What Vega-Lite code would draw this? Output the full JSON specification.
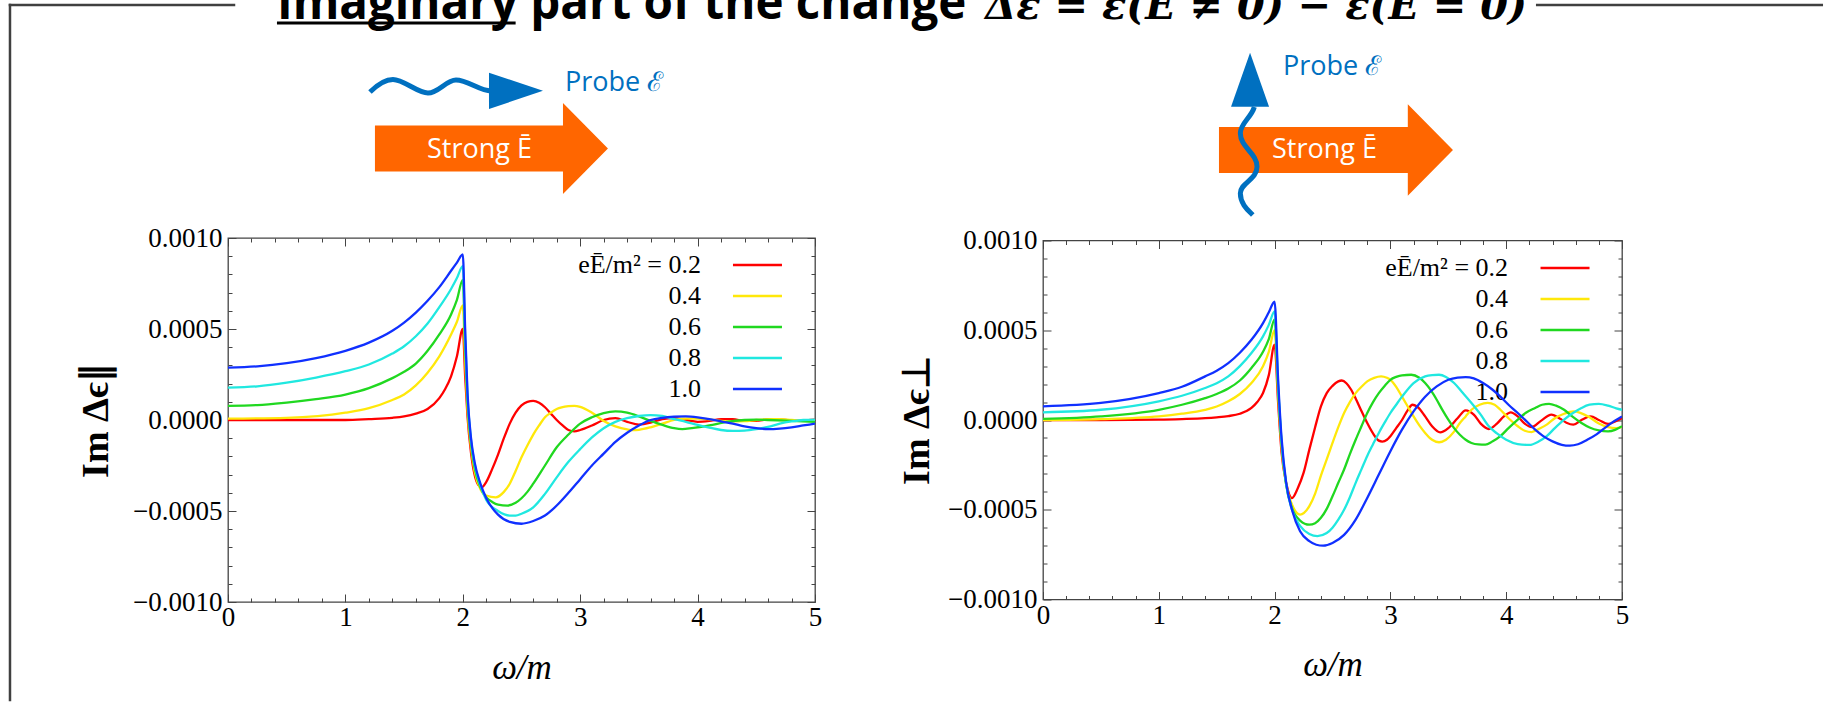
{
"$schema":"https://vega.github.io/schema/vega-lite/v6.json",
"background":"white",
"padding":{"left":7,"top":-20,"right":0,"bottom":0},
"config":{
 "view":{"stroke":"#444444","strokeWidth":1.3},
 "axis":{"domain":false,"grid":false,"tickColor":"#444444","tickWidth":1,"labelFont":"Liberation Serif","labelFontSize":27,"labelColor":"#000000","labelFlush":false,"labelOverlap":false,"titleFont":"Liberation Serif","titleColor":"#000000"}
},
"datasets":{
"leg":[{"k":"0.2","t":"eĒ/m² = 0.2"},{"k":"0.4","t":"0.4"},{"k":"0.6","t":"0.6"},{"k":"0.8","t":"0.8"},{"k":"1.0","t":"1.0"}],
"par":[
{"k":"0.2","x":0,"y":0e-4},{"k":"0.2","x":0.5,"y":0e-4},{"k":"0.2","x":1,"y":0e-4},{"k":"0.2","x":1.2,"y":0.05e-4},{"k":"0.2","x":1.4,"y":0.12e-4},{"k":"0.2","x":1.5,"y":0.2e-4},{"k":"0.2","x":1.6,"y":0.35e-4},{"k":"0.2","x":1.7,"y":0.6e-4},{"k":"0.2","x":1.8,"y":1.2e-4},{"k":"0.2","x":1.85,"y":1.7e-4},{"k":"0.2","x":1.9,"y":2.4e-4},{"k":"0.2","x":1.95,"y":3.5e-4},{"k":"0.2","x":2,"y":5.0e-4},{"k":"0.2","x":2.02,"y":2.4e-4},{"k":"0.2","x":2.04,"y":0.2e-4},{"k":"0.2","x":2.07,"y":-1.8e-4},{"k":"0.2","x":2.1,"y":-3.0e-4},{"k":"0.2","x":2.13,"y":-3.55e-4},{"k":"0.2","x":2.16,"y":-3.7e-4},{"k":"0.2","x":2.2,"y":-3.4e-4},{"k":"0.2","x":2.25,"y":-2.7e-4},{"k":"0.2","x":2.3,"y":-1.9e-4},{"k":"0.2","x":2.35,"y":-1.0e-4},{"k":"0.2","x":2.4,"y":-0.2e-4},{"k":"0.2","x":2.45,"y":0.4e-4},{"k":"0.2","x":2.5,"y":0.8e-4},{"k":"0.2","x":2.55,"y":1.0e-4},{"k":"0.2","x":2.6,"y":1.05e-4},{"k":"0.2","x":2.65,"y":0.95e-4},{"k":"0.2","x":2.7,"y":0.7e-4},{"k":"0.2","x":2.75,"y":0.35e-4},{"k":"0.2","x":2.8,"y":0e-4},{"k":"0.2","x":2.85,"y":-0.3e-4},{"k":"0.2","x":2.9,"y":-0.55e-4},{"k":"0.2","x":2.95,"y":-0.62e-4},{"k":"0.2","x":3,"y":-0.55e-4},{"k":"0.2","x":3.1,"y":-0.3e-4},{"k":"0.2","x":3.2,"y":0e-4},{"k":"0.2","x":3.3,"y":0.1e-4},{"k":"0.2","x":3.4,"y":-0.1e-4},{"k":"0.2","x":3.5,"y":-0.25e-4},{"k":"0.2","x":3.6,"y":-0.15e-4},{"k":"0.2","x":3.7,"y":0.05e-4},{"k":"0.2","x":3.8,"y":0.1e-4},{"k":"0.2","x":3.9,"y":0e-4},{"k":"0.2","x":4,"y":-0.1e-4},{"k":"0.2","x":4.1,"y":-0.05e-4},{"k":"0.2","x":4.2,"y":0.05e-4},{"k":"0.2","x":4.3,"y":0.05e-4},{"k":"0.2","x":4.4,"y":-0.05e-4},{"k":"0.2","x":4.5,"y":-0.05e-4},{"k":"0.2","x":4.6,"y":0.03e-4},{"k":"0.2","x":4.7,"y":0.03e-4},{"k":"0.2","x":4.8,"y":-0.03e-4},{"k":"0.2","x":4.9,"y":-0.02e-4},{"k":"0.2","x":5,"y":0.02e-4},
{"k":"0.4","x":0,"y":0.08e-4},{"k":"0.4","x":0.5,"y":0.12e-4},{"k":"0.4","x":1,"y":0.4e-4},{"k":"0.4","x":1.2,"y":0.65e-4},{"k":"0.4","x":1.4,"y":1.1e-4},{"k":"0.4","x":1.5,"y":1.4e-4},{"k":"0.4","x":1.6,"y":1.9e-4},{"k":"0.4","x":1.7,"y":2.6e-4},{"k":"0.4","x":1.8,"y":3.5e-4},{"k":"0.4","x":1.9,"y":4.7e-4},{"k":"0.4","x":1.95,"y":5.4e-4},{"k":"0.4","x":2,"y":6.3e-4},{"k":"0.4","x":2.02,"y":3.3e-4},{"k":"0.4","x":2.04,"y":0.6e-4},{"k":"0.4","x":2.07,"y":-1.5e-4},{"k":"0.4","x":2.1,"y":-2.8e-4},{"k":"0.4","x":2.15,"y":-3.8e-4},{"k":"0.4","x":2.2,"y":-4.15e-4},{"k":"0.4","x":2.28,"y":-4.25e-4},{"k":"0.4","x":2.35,"y":-3.95e-4},{"k":"0.4","x":2.4,"y":-3.5e-4},{"k":"0.4","x":2.45,"y":-2.8e-4},{"k":"0.4","x":2.5,"y":-2.05e-4},{"k":"0.4","x":2.55,"y":-1.4e-4},{"k":"0.4","x":2.6,"y":-0.8e-4},{"k":"0.4","x":2.65,"y":-0.3e-4},{"k":"0.4","x":2.7,"y":0.15e-4},{"k":"0.4","x":2.75,"y":0.4e-4},{"k":"0.4","x":2.8,"y":0.6e-4},{"k":"0.4","x":2.9,"y":0.76e-4},{"k":"0.4","x":2.95,"y":0.78e-4},{"k":"0.4","x":3,"y":0.72e-4},{"k":"0.4","x":3.1,"y":0.4e-4},{"k":"0.4","x":3.2,"y":-0.05e-4},{"k":"0.4","x":3.3,"y":-0.35e-4},{"k":"0.4","x":3.4,"y":-0.52e-4},{"k":"0.4","x":3.45,"y":-0.56e-4},{"k":"0.4","x":3.5,"y":-0.54e-4},{"k":"0.4","x":3.6,"y":-0.4e-4},{"k":"0.4","x":3.7,"y":-0.2e-4},{"k":"0.4","x":3.8,"y":0e-4},{"k":"0.4","x":3.9,"y":0.08e-4},{"k":"0.4","x":4,"y":0.08e-4},{"k":"0.4","x":4.1,"y":0.03e-4},{"k":"0.4","x":4.2,"y":-0.05e-4},{"k":"0.4","x":4.3,"y":-0.08e-4},{"k":"0.4","x":4.4,"y":-0.06e-4},{"k":"0.4","x":4.5,"y":0e-4},{"k":"0.4","x":4.6,"y":0.04e-4},{"k":"0.4","x":4.7,"y":0.04e-4},{"k":"0.4","x":4.8,"y":0e-4},{"k":"0.4","x":4.9,"y":-0.03e-4},{"k":"0.4","x":5,"y":-0.03e-4},
{"k":"0.6","x":0,"y":0.78e-4},{"k":"0.6","x":0.25,"y":0.82e-4},{"k":"0.6","x":0.5,"y":0.96e-4},{"k":"0.6","x":0.75,"y":1.15e-4},{"k":"0.6","x":1,"y":1.4e-4},{"k":"0.6","x":1.2,"y":1.75e-4},{"k":"0.6","x":1.4,"y":2.3e-4},{"k":"0.6","x":1.5,"y":2.65e-4},{"k":"0.6","x":1.6,"y":3.1e-4},{"k":"0.6","x":1.7,"y":3.8e-4},{"k":"0.6","x":1.8,"y":4.7e-4},{"k":"0.6","x":1.9,"y":5.8e-4},{"k":"0.6","x":1.95,"y":6.6e-4},{"k":"0.6","x":2,"y":7.7e-4},{"k":"0.6","x":2.02,"y":4.0e-4},{"k":"0.6","x":2.04,"y":1.0e-4},{"k":"0.6","x":2.07,"y":-1.3e-4},{"k":"0.6","x":2.1,"y":-2.6e-4},{"k":"0.6","x":2.15,"y":-3.7e-4},{"k":"0.6","x":2.2,"y":-4.25e-4},{"k":"0.6","x":2.25,"y":-4.5e-4},{"k":"0.6","x":2.3,"y":-4.65e-4},{"k":"0.6","x":2.38,"y":-4.7e-4},{"k":"0.6","x":2.45,"y":-4.55e-4},{"k":"0.6","x":2.5,"y":-4.3e-4},{"k":"0.6","x":2.55,"y":-3.95e-4},{"k":"0.6","x":2.6,"y":-3.5e-4},{"k":"0.6","x":2.7,"y":-2.5e-4},{"k":"0.6","x":2.8,"y":-1.5e-4},{"k":"0.6","x":2.9,"y":-0.8e-4},{"k":"0.6","x":3,"y":-0.2e-4},{"k":"0.6","x":3.1,"y":0.15e-4},{"k":"0.6","x":3.2,"y":0.38e-4},{"k":"0.6","x":3.3,"y":0.47e-4},{"k":"0.6","x":3.4,"y":0.4e-4},{"k":"0.6","x":3.5,"y":0.2e-4},{"k":"0.6","x":3.6,"y":-0.05e-4},{"k":"0.6","x":3.7,"y":-0.27e-4},{"k":"0.6","x":3.8,"y":-0.45e-4},{"k":"0.6","x":3.87,"y":-0.5e-4},{"k":"0.6","x":3.95,"y":-0.45e-4},{"k":"0.6","x":4.1,"y":-0.3e-4},{"k":"0.6","x":4.25,"y":-0.1e-4},{"k":"0.6","x":4.4,"y":0e-4},{"k":"0.6","x":4.5,"y":0.02e-4},{"k":"0.6","x":4.6,"y":0e-4},{"k":"0.6","x":4.8,"y":-0.05e-4},{"k":"0.6","x":5,"y":-0.1e-4},
{"k":"0.8","x":0,"y":1.78e-4},{"k":"0.8","x":0.25,"y":1.85e-4},{"k":"0.8","x":0.5,"y":2.05e-4},{"k":"0.8","x":0.75,"y":2.33e-4},{"k":"0.8","x":1,"y":2.68e-4},{"k":"0.8","x":1.2,"y":3.05e-4},{"k":"0.8","x":1.4,"y":3.65e-4},{"k":"0.8","x":1.5,"y":4.05e-4},{"k":"0.8","x":1.6,"y":4.6e-4},{"k":"0.8","x":1.7,"y":5.3e-4},{"k":"0.8","x":1.8,"y":6.2e-4},{"k":"0.8","x":1.9,"y":7.2e-4},{"k":"0.8","x":1.95,"y":7.8e-4},{"k":"0.8","x":2,"y":8.45e-4},{"k":"0.8","x":2.02,"y":4.6e-4},{"k":"0.8","x":2.04,"y":1.3e-4},{"k":"0.8","x":2.07,"y":-1.1e-4},{"k":"0.8","x":2.1,"y":-2.4e-4},{"k":"0.8","x":2.15,"y":-3.6e-4},{"k":"0.8","x":2.2,"y":-4.4e-4},{"k":"0.8","x":2.3,"y":-5.0e-4},{"k":"0.8","x":2.4,"y":-5.25e-4},{"k":"0.8","x":2.45,"y":-5.25e-4},{"k":"0.8","x":2.5,"y":-5.15e-4},{"k":"0.8","x":2.6,"y":-4.8e-4},{"k":"0.8","x":2.7,"y":-4.06e-4},{"k":"0.8","x":2.8,"y":-3.15e-4},{"k":"0.8","x":2.9,"y":-2.3e-4},{"k":"0.8","x":3,"y":-1.6e-4},{"k":"0.8","x":3.1,"y":-0.96e-4},{"k":"0.8","x":3.2,"y":-0.45e-4},{"k":"0.8","x":3.3,"y":-0.1e-4},{"k":"0.8","x":3.4,"y":0.1e-4},{"k":"0.8","x":3.5,"y":0.22e-4},{"k":"0.8","x":3.6,"y":0.27e-4},{"k":"0.8","x":3.7,"y":0.22e-4},{"k":"0.8","x":3.8,"y":0.05e-4},{"k":"0.8","x":3.9,"y":-0.1e-4},{"k":"0.8","x":4,"y":-0.27e-4},{"k":"0.8","x":4.1,"y":-0.42e-4},{"k":"0.8","x":4.2,"y":-0.55e-4},{"k":"0.8","x":4.3,"y":-0.6e-4},{"k":"0.8","x":4.4,"y":-0.58e-4},{"k":"0.8","x":4.5,"y":-0.5e-4},{"k":"0.8","x":4.6,"y":-0.38e-4},{"k":"0.8","x":4.7,"y":-0.2e-4},{"k":"0.8","x":4.8,"y":-0.08e-4},{"k":"0.8","x":4.9,"y":0e-4},{"k":"0.8","x":5,"y":0.02e-4},
{"k":"1.0","x":0,"y":2.88e-4},{"k":"1.0","x":0.25,"y":2.95e-4},{"k":"1.0","x":0.5,"y":3.12e-4},{"k":"1.0","x":0.75,"y":3.4e-4},{"k":"1.0","x":1,"y":3.8e-4},{"k":"1.0","x":1.2,"y":4.25e-4},{"k":"1.0","x":1.4,"y":4.9e-4},{"k":"1.0","x":1.5,"y":5.35e-4},{"k":"1.0","x":1.6,"y":5.9e-4},{"k":"1.0","x":1.7,"y":6.55e-4},{"k":"1.0","x":1.8,"y":7.3e-4},{"k":"1.0","x":1.9,"y":8.2e-4},{"k":"1.0","x":1.95,"y":8.65e-4},{"k":"1.0","x":2,"y":9.1e-4},{"k":"1.0","x":2.02,"y":5.0e-4},{"k":"1.0","x":2.04,"y":1.5e-4},{"k":"1.0","x":2.07,"y":-1.0e-4},{"k":"1.0","x":2.1,"y":-2.3e-4},{"k":"1.0","x":2.15,"y":-3.5e-4},{"k":"1.0","x":2.2,"y":-4.3e-4},{"k":"1.0","x":2.3,"y":-5.2e-4},{"k":"1.0","x":2.4,"y":-5.6e-4},{"k":"1.0","x":2.5,"y":-5.7e-4},{"k":"1.0","x":2.6,"y":-5.55e-4},{"k":"1.0","x":2.7,"y":-5.25e-4},{"k":"1.0","x":2.8,"y":-4.7e-4},{"k":"1.0","x":2.9,"y":-4.0e-4},{"k":"1.0","x":3,"y":-3.25e-4},{"k":"1.0","x":3.1,"y":-2.5e-4},{"k":"1.0","x":3.2,"y":-1.85e-4},{"k":"1.0","x":3.3,"y":-1.2e-4},{"k":"1.0","x":3.4,"y":-0.7e-4},{"k":"1.0","x":3.5,"y":-0.3e-4},{"k":"1.0","x":3.6,"y":0e-4},{"k":"1.0","x":3.7,"y":0.12e-4},{"k":"1.0","x":3.8,"y":0.18e-4},{"k":"1.0","x":3.9,"y":0.2e-4},{"k":"1.0","x":4,"y":0.15e-4},{"k":"1.0","x":4.1,"y":0.05e-4},{"k":"1.0","x":4.2,"y":-0.08e-4},{"k":"1.0","x":4.3,"y":-0.2e-4},{"k":"1.0","x":4.4,"y":-0.35e-4},{"k":"1.0","x":4.5,"y":-0.45e-4},{"k":"1.0","x":4.6,"y":-0.5e-4},{"k":"1.0","x":4.7,"y":-0.47e-4},{"k":"1.0","x":4.8,"y":-0.4e-4},{"k":"1.0","x":4.9,"y":-0.3e-4},{"k":"1.0","x":5,"y":-0.2e-4}
],
"perp":[
{"k":"0.2","x":0,"y":0e-4},{"k":"0.2","x":0.5,"y":0e-4},{"k":"0.2","x":1,"y":0.02e-4},{"k":"0.2","x":1.2,"y":0.05e-4},{"k":"0.2","x":1.4,"y":0.1e-4},{"k":"0.2","x":1.5,"y":0.15e-4},{"k":"0.2","x":1.6,"y":0.22e-4},{"k":"0.2","x":1.7,"y":0.35e-4},{"k":"0.2","x":1.8,"y":0.67e-4},{"k":"0.2","x":1.85,"y":1.0e-4},{"k":"0.2","x":1.9,"y":1.5e-4},{"k":"0.2","x":1.95,"y":2.5e-4},{"k":"0.2","x":2,"y":4.2e-4},{"k":"0.2","x":2.03,"y":1.0e-4},{"k":"0.2","x":2.06,"y":-1.8e-4},{"k":"0.2","x":2.1,"y":-3.5e-4},{"k":"0.2","x":2.15,"y":-4.35e-4},{"k":"0.2","x":2.2,"y":-3.8e-4},{"k":"0.2","x":2.25,"y":-2.95e-4},{"k":"0.2","x":2.3,"y":-1.65e-4},{"k":"0.2","x":2.35,"y":-0.4e-4},{"k":"0.2","x":2.4,"y":0.76e-4},{"k":"0.2","x":2.45,"y":1.5e-4},{"k":"0.2","x":2.5,"y":1.9e-4},{"k":"0.2","x":2.55,"y":2.15e-4},{"k":"0.2","x":2.58,"y":2.2e-4},{"k":"0.2","x":2.62,"y":2.05e-4},{"k":"0.2","x":2.66,"y":1.7e-4},{"k":"0.2","x":2.7,"y":1.2e-4},{"k":"0.2","x":2.75,"y":0.5e-4},{"k":"0.2","x":2.8,"y":-0.17e-4},{"k":"0.2","x":2.85,"y":-0.75e-4},{"k":"0.2","x":2.9,"y":-1.15e-4},{"k":"0.2","x":2.93,"y":-1.2e-4},{"k":"0.2","x":2.97,"y":-1.1e-4},{"k":"0.2","x":3,"y":-0.9e-4},{"k":"0.2","x":3.05,"y":-0.45e-4},{"k":"0.2","x":3.1,"y":0e-4},{"k":"0.2","x":3.15,"y":0.55e-4},{"k":"0.2","x":3.19,"y":0.85e-4},{"k":"0.2","x":3.23,"y":0.75e-4},{"k":"0.2","x":3.3,"y":0.2e-4},{"k":"0.2","x":3.36,"y":-0.35e-4},{"k":"0.2","x":3.43,"y":-0.69e-4},{"k":"0.2","x":3.5,"y":-0.45e-4},{"k":"0.2","x":3.58,"y":0.1e-4},{"k":"0.2","x":3.65,"y":0.54e-4},{"k":"0.2","x":3.72,"y":0.3e-4},{"k":"0.2","x":3.78,"y":-0.2e-4},{"k":"0.2","x":3.85,"y":-0.5e-4},{"k":"0.2","x":3.92,"y":-0.2e-4},{"k":"0.2","x":3.98,"y":0.2e-4},{"k":"0.2","x":4.04,"y":0.43e-4},{"k":"0.2","x":4.1,"y":0.2e-4},{"k":"0.2","x":4.16,"y":-0.2e-4},{"k":"0.2","x":4.22,"y":-0.39e-4},{"k":"0.2","x":4.3,"y":-0.05e-4},{"k":"0.2","x":4.39,"y":0.3e-4},{"k":"0.2","x":4.47,"y":0.05e-4},{"k":"0.2","x":4.52,"y":-0.15e-4},{"k":"0.2","x":4.58,"y":-0.26e-4},{"k":"0.2","x":4.65,"y":0e-4},{"k":"0.2","x":4.73,"y":0.2e-4},{"k":"0.2","x":4.8,"y":0e-4},{"k":"0.2","x":4.88,"y":-0.22e-4},{"k":"0.2","x":4.95,"y":-0.05e-4},{"k":"0.2","x":5,"y":0.1e-4},
{"k":"0.4","x":0,"y":0e-4},{"k":"0.4","x":0.5,"y":0.05e-4},{"k":"0.4","x":1,"y":0.2e-4},{"k":"0.4","x":1.2,"y":0.35e-4},{"k":"0.4","x":1.4,"y":0.57e-4},{"k":"0.4","x":1.5,"y":0.75e-4},{"k":"0.4","x":1.6,"y":1.04e-4},{"k":"0.4","x":1.7,"y":1.45e-4},{"k":"0.4","x":1.8,"y":2.06e-4},{"k":"0.4","x":1.9,"y":3.0e-4},{"k":"0.4","x":1.95,"y":3.8e-4},{"k":"0.4","x":2,"y":5.0e-4},{"k":"0.4","x":2.03,"y":1.5e-4},{"k":"0.4","x":2.06,"y":-1.5e-4},{"k":"0.4","x":2.1,"y":-3.6e-4},{"k":"0.4","x":2.15,"y":-4.7e-4},{"k":"0.4","x":2.22,"y":-5.27e-4},{"k":"0.4","x":2.3,"y":-4.8e-4},{"k":"0.4","x":2.35,"y":-4.1e-4},{"k":"0.4","x":2.4,"y":-3.1e-4},{"k":"0.4","x":2.45,"y":-2.2e-4},{"k":"0.4","x":2.5,"y":-1.28e-4},{"k":"0.4","x":2.55,"y":-0.4e-4},{"k":"0.4","x":2.6,"y":0.39e-4},{"k":"0.4","x":2.65,"y":1.0e-4},{"k":"0.4","x":2.7,"y":1.5e-4},{"k":"0.4","x":2.75,"y":1.85e-4},{"k":"0.4","x":2.8,"y":2.15e-4},{"k":"0.4","x":2.86,"y":2.35e-4},{"k":"0.4","x":2.92,"y":2.43e-4},{"k":"0.4","x":2.97,"y":2.35e-4},{"k":"0.4","x":3,"y":2.24e-4},{"k":"0.4","x":3.05,"y":1.85e-4},{"k":"0.4","x":3.1,"y":1.3e-4},{"k":"0.4","x":3.15,"y":0.75e-4},{"k":"0.4","x":3.2,"y":0.2e-4},{"k":"0.4","x":3.25,"y":-0.3e-4},{"k":"0.4","x":3.3,"y":-0.72e-4},{"k":"0.4","x":3.36,"y":-1.1e-4},{"k":"0.4","x":3.42,"y":-1.24e-4},{"k":"0.4","x":3.48,"y":-1.1e-4},{"k":"0.4","x":3.55,"y":-0.65e-4},{"k":"0.4","x":3.6,"y":-0.17e-4},{"k":"0.4","x":3.65,"y":0.2e-4},{"k":"0.4","x":3.7,"y":0.57e-4},{"k":"0.4","x":3.77,"y":0.85e-4},{"k":"0.4","x":3.84,"y":0.95e-4},{"k":"0.4","x":3.9,"y":0.85e-4},{"k":"0.4","x":3.95,"y":0.57e-4},{"k":"0.4","x":4.02,"y":0.1e-4},{"k":"0.4","x":4.1,"y":-0.35e-4},{"k":"0.4","x":4.16,"y":-0.6e-4},{"k":"0.4","x":4.22,"y":-0.67e-4},{"k":"0.4","x":4.28,"y":-0.5e-4},{"k":"0.4","x":4.35,"y":-0.26e-4},{"k":"0.4","x":4.42,"y":0.1e-4},{"k":"0.4","x":4.5,"y":0.35e-4},{"k":"0.4","x":4.58,"y":0.48e-4},{"k":"0.4","x":4.64,"y":0.4e-4},{"k":"0.4","x":4.72,"y":0.15e-4},{"k":"0.4","x":4.8,"y":-0.2e-4},{"k":"0.4","x":4.88,"y":-0.4e-4},{"k":"0.4","x":4.95,"y":-0.45e-4},{"k":"0.4","x":5,"y":-0.38e-4},
{"k":"0.6","x":0,"y":0.06e-4},{"k":"0.6","x":0.5,"y":0.2e-4},{"k":"0.6","x":1,"y":0.57e-4},{"k":"0.6","x":1.2,"y":0.85e-4},{"k":"0.6","x":1.4,"y":1.22e-4},{"k":"0.6","x":1.5,"y":1.45e-4},{"k":"0.6","x":1.6,"y":1.75e-4},{"k":"0.6","x":1.7,"y":2.2e-4},{"k":"0.6","x":1.8,"y":2.9e-4},{"k":"0.6","x":1.9,"y":3.8e-4},{"k":"0.6","x":1.95,"y":4.5e-4},{"k":"0.6","x":2,"y":5.6e-4},{"k":"0.6","x":2.03,"y":1.8e-4},{"k":"0.6","x":2.06,"y":-1.3e-4},{"k":"0.6","x":2.1,"y":-3.6e-4},{"k":"0.6","x":2.15,"y":-4.9e-4},{"k":"0.6","x":2.22,"y":-5.6e-4},{"k":"0.6","x":2.3,"y":-5.83e-4},{"k":"0.6","x":2.35,"y":-5.75e-4},{"k":"0.6","x":2.4,"y":-5.45e-4},{"k":"0.6","x":2.45,"y":-4.95e-4},{"k":"0.6","x":2.5,"y":-4.25e-4},{"k":"0.6","x":2.55,"y":-3.5e-4},{"k":"0.6","x":2.6,"y":-2.76e-4},{"k":"0.6","x":2.65,"y":-1.9e-4},{"k":"0.6","x":2.7,"y":-1.1e-4},{"k":"0.6","x":2.75,"y":-0.35e-4},{"k":"0.6","x":2.8,"y":0.39e-4},{"k":"0.6","x":2.85,"y":1.0e-4},{"k":"0.6","x":2.9,"y":1.5e-4},{"k":"0.6","x":2.95,"y":1.9e-4},{"k":"0.6","x":3,"y":2.24e-4},{"k":"0.6","x":3.05,"y":2.4e-4},{"k":"0.6","x":3.1,"y":2.49e-4},{"k":"0.6","x":3.18,"y":2.52e-4},{"k":"0.6","x":3.25,"y":2.35e-4},{"k":"0.6","x":3.3,"y":2.06e-4},{"k":"0.6","x":3.35,"y":1.65e-4},{"k":"0.6","x":3.4,"y":1.13e-4},{"k":"0.6","x":3.45,"y":0.55e-4},{"k":"0.6","x":3.5,"y":0.02e-4},{"k":"0.6","x":3.55,"y":-0.45e-4},{"k":"0.6","x":3.6,"y":-0.82e-4},{"k":"0.6","x":3.65,"y":-1.1e-4},{"k":"0.6","x":3.7,"y":-1.28e-4},{"k":"0.6","x":3.76,"y":-1.36e-4},{"k":"0.6","x":3.82,"y":-1.37e-4},{"k":"0.6","x":3.88,"y":-1.2e-4},{"k":"0.6","x":3.95,"y":-0.9e-4},{"k":"0.6","x":4.02,"y":-0.45e-4},{"k":"0.6","x":4.1,"y":0.02e-4},{"k":"0.6","x":4.17,"y":0.4e-4},{"k":"0.6","x":4.25,"y":0.67e-4},{"k":"0.6","x":4.31,"y":0.85e-4},{"k":"0.6","x":4.37,"y":0.9e-4},{"k":"0.6","x":4.43,"y":0.8e-4},{"k":"0.6","x":4.5,"y":0.57e-4},{"k":"0.6","x":4.57,"y":0.2e-4},{"k":"0.6","x":4.65,"y":-0.17e-4},{"k":"0.6","x":4.72,"y":-0.42e-4},{"k":"0.6","x":4.8,"y":-0.58e-4},{"k":"0.6","x":4.88,"y":-0.63e-4},{"k":"0.6","x":4.94,"y":-0.55e-4},{"k":"0.6","x":5,"y":-0.35e-4},
{"k":"0.8","x":0,"y":0.43e-4},{"k":"0.8","x":0.5,"y":0.57e-4},{"k":"0.8","x":1,"y":1.04e-4},{"k":"0.8","x":1.2,"y":1.35e-4},{"k":"0.8","x":1.4,"y":1.78e-4},{"k":"0.8","x":1.5,"y":2.05e-4},{"k":"0.8","x":1.6,"y":2.43e-4},{"k":"0.8","x":1.7,"y":3.0e-4},{"k":"0.8","x":1.8,"y":3.73e-4},{"k":"0.8","x":1.9,"y":4.66e-4},{"k":"0.8","x":1.95,"y":5.3e-4},{"k":"0.8","x":2,"y":6.05e-4},{"k":"0.8","x":2.03,"y":2.0e-4},{"k":"0.8","x":2.06,"y":-1.2e-4},{"k":"0.8","x":2.1,"y":-3.6e-4},{"k":"0.8","x":2.15,"y":-5.0e-4},{"k":"0.8","x":2.22,"y":-5.9e-4},{"k":"0.8","x":2.3,"y":-6.35e-4},{"k":"0.8","x":2.37,"y":-6.47e-4},{"k":"0.8","x":2.45,"y":-6.3e-4},{"k":"0.8","x":2.5,"y":-6.0e-4},{"k":"0.8","x":2.55,"y":-5.55e-4},{"k":"0.8","x":2.6,"y":-5.0e-4},{"k":"0.8","x":2.65,"y":-4.3e-4},{"k":"0.8","x":2.7,"y":-3.5e-4},{"k":"0.8","x":2.75,"y":-2.75e-4},{"k":"0.8","x":2.8,"y":-2.0e-4},{"k":"0.8","x":2.85,"y":-1.35e-4},{"k":"0.8","x":2.9,"y":-0.72e-4},{"k":"0.8","x":2.95,"y":-0.15e-4},{"k":"0.8","x":3,"y":0.39e-4},{"k":"0.8","x":3.05,"y":0.85e-4},{"k":"0.8","x":3.1,"y":1.3e-4},{"k":"0.8","x":3.2,"y":2.06e-4},{"k":"0.8","x":3.3,"y":2.43e-4},{"k":"0.8","x":3.36,"y":2.5e-4},{"k":"0.8","x":3.42,"y":2.52e-4},{"k":"0.8","x":3.48,"y":2.4e-4},{"k":"0.8","x":3.55,"y":2.06e-4},{"k":"0.8","x":3.62,"y":1.55e-4},{"k":"0.8","x":3.7,"y":0.95e-4},{"k":"0.8","x":3.78,"y":0.3e-4},{"k":"0.8","x":3.85,"y":-0.35e-4},{"k":"0.8","x":3.92,"y":-0.75e-4},{"k":"0.8","x":4,"y":-1.1e-4},{"k":"0.8","x":4.1,"y":-1.34e-4},{"k":"0.8","x":4.2,"y":-1.39e-4},{"k":"0.8","x":4.28,"y":-1.2e-4},{"k":"0.8","x":4.35,"y":-0.9e-4},{"k":"0.8","x":4.42,"y":-0.45e-4},{"k":"0.8","x":4.5,"y":0.02e-4},{"k":"0.8","x":4.58,"y":0.4e-4},{"k":"0.8","x":4.65,"y":0.67e-4},{"k":"0.8","x":4.72,"y":0.85e-4},{"k":"0.8","x":4.8,"y":0.9e-4},{"k":"0.8","x":4.88,"y":0.8e-4},{"k":"0.8","x":4.95,"y":0.65e-4},{"k":"0.8","x":5,"y":0.57e-4},
{"k":"1.0","x":0,"y":0.76e-4},{"k":"1.0","x":0.5,"y":0.95e-4},{"k":"1.0","x":1,"y":1.5e-4},{"k":"1.0","x":1.2,"y":1.85e-4},{"k":"1.0","x":1.4,"y":2.43e-4},{"k":"1.0","x":1.5,"y":2.75e-4},{"k":"1.0","x":1.6,"y":3.17e-4},{"k":"1.0","x":1.7,"y":3.75e-4},{"k":"1.0","x":1.8,"y":4.47e-4},{"k":"1.0","x":1.9,"y":5.4e-4},{"k":"1.0","x":1.95,"y":6.0e-4},{"k":"1.0","x":2,"y":6.6e-4},{"k":"1.0","x":2.03,"y":2.3e-4},{"k":"1.0","x":2.06,"y":-1.0e-4},{"k":"1.0","x":2.1,"y":-3.5e-4},{"k":"1.0","x":2.15,"y":-5.0e-4},{"k":"1.0","x":2.22,"y":-6.2e-4},{"k":"1.0","x":2.3,"y":-6.75e-4},{"k":"1.0","x":2.36,"y":-6.95e-4},{"k":"1.0","x":2.42,"y":-7.0e-4},{"k":"1.0","x":2.5,"y":-6.85e-4},{"k":"1.0","x":2.6,"y":-6.4e-4},{"k":"1.0","x":2.7,"y":-5.55e-4},{"k":"1.0","x":2.8,"y":-4.34e-4},{"k":"1.0","x":2.9,"y":-3.04e-4},{"k":"1.0","x":3,"y":-1.74e-4},{"k":"1.0","x":3.1,"y":-0.54e-4},{"k":"1.0","x":3.2,"y":0.48e-4},{"k":"1.0","x":3.3,"y":1.3e-4},{"k":"1.0","x":3.4,"y":1.87e-4},{"k":"1.0","x":3.5,"y":2.24e-4},{"k":"1.0","x":3.58,"y":2.36e-4},{"k":"1.0","x":3.65,"y":2.39e-4},{"k":"1.0","x":3.72,"y":2.32e-4},{"k":"1.0","x":3.8,"y":2.06e-4},{"k":"1.0","x":3.88,"y":1.7e-4},{"k":"1.0","x":3.95,"y":1.3e-4},{"k":"1.0","x":4.02,"y":0.85e-4},{"k":"1.0","x":4.1,"y":0.39e-4},{"k":"1.0","x":4.18,"y":-0.1e-4},{"k":"1.0","x":4.25,"y":-0.54e-4},{"k":"1.0","x":4.32,"y":-0.9e-4},{"k":"1.0","x":4.4,"y":-1.19e-4},{"k":"1.0","x":4.48,"y":-1.38e-4},{"k":"1.0","x":4.55,"y":-1.43e-4},{"k":"1.0","x":4.62,"y":-1.35e-4},{"k":"1.0","x":4.7,"y":-1.1e-4},{"k":"1.0","x":4.78,"y":-0.8e-4},{"k":"1.0","x":4.85,"y":-0.45e-4},{"k":"1.0","x":4.92,"y":-0.12e-4},{"k":"1.0","x":5,"y":0.2e-4}
]
},
"spacing":228,
"bounds":"flush",
"center":true,
"hconcat":[
{
 "width":587,"height":364,
 "resolve":{"axis":{"x":"independent","y":"independent"}},
 "layer":[
  {"data":{"name":"leg"},"mark":{"type":"text","align":"right","baseline":"middle","font":"Liberation Serif","fontSize":26,"fill":"#000000"},
   "encoding":{"text":{"field":"t"},"x":{"datum":4.029,"type":"quantitative","axis":null},"y":{"datum":0.000852,"type":"quantitative","axis":null},
    "yOffset":{"field":"k","type":"nominal","scale":{"type":"point","domain":["0.2","0.4","0.6","0.8","1.0"],"range":[0,124],"padding":0}}}},
  {"data":{"name":"leg"},"mark":{"type":"point","shape":"M -1 0 L 1 0","size":2401,"filled":false,"strokeWidth":2.5,"opacity":1},
   "encoding":{"x":{"datum":4.51,"type":"quantitative","axis":null},"y":{"datum":0.000852,"type":"quantitative","axis":null},
    "yOffset":{"field":"k","type":"nominal","scale":{"type":"point","domain":["0.2","0.4","0.6","0.8","1.0"],"range":[0,124],"padding":0}},
    "color":{"field":"k","type":"nominal","scale":{"domain":["0.2","0.4","0.6","0.8","1.0"],"range":["#ff0000","#ffe80a","#20d820","#20e8e0","#1030ff"]},"legend":null}}},
  {"data":{"name":"par"},"mark":{"type":"line","strokeWidth":2.3,"interpolate":"monotone","clip":true},
   "encoding":{
    "x":{"field":"x","type":"quantitative","scale":{"domain":[0,5],"nice":false,"zero":false},
     "axis":{"orient":"bottom","title":"ω/m","values":[0,0.2,0.4,0.6,0.8,1,1.2,1.4,1.6,1.8,2,2.2,2.4,2.6,2.8,3,3.2,3.4,3.6,3.8,4,4.2,4.4,4.6,4.8,5],
      "labelExpr":"abs(datum.value-round(datum.value))<0.001 ? format(datum.value,'d') : ''",
      "tickSize":{"condition":{"test":"abs(datum.value-round(datum.value))<0.001","value":-8},"value":-4},
      "labelPadding":10.5,"titleFontSize":35,"titleFontStyle":"italic","titleFontWeight":"normal","titlePadding":15.5}},
    "y":{"field":"y","type":"quantitative","scale":{"domain":[-0.001,0.001],"nice":false,"zero":false},
     "axis":{"orient":"left","title":"Im  Δϵ∥","values":[-0.001,-0.0009,-0.0008,-0.0007,-0.0006,-0.0005,-0.0004,-0.0003,-0.0002,-0.0001,0,0.0001,0.0002,0.0003,0.0004,0.0005,0.0006,0.0007,0.0008,0.0009,0.001],
      "labelExpr":"abs(datum.value*2000-round(datum.value*2000))<0.001 ? format(datum.value,'.4f') : ''",
      "tickSize":{"condition":{"test":"abs(datum.value*2000-round(datum.value*2000))<0.001","value":-8},"value":-4},
      "labelPadding":14,"titleFontSize":38,"titleFontWeight":"bold","titlePadding":17}},
    "color":{"field":"k","type":"nominal","scale":{"domain":["0.2","0.4","0.6","0.8","1.0"],"range":["#ff0000","#ffe80a","#20d820","#20e8e0","#1030ff"]},"legend":null}}},
  {"data":{"values":[{}]},"mark":{"type":"point","opacity":0},
   "encoding":{
    "x":{"datum":0,"type":"quantitative","scale":{"domain":[0,5],"nice":false,"zero":false},
     "axis":{"orient":"top","title":null,"labels":false,"values":[0,0.2,0.4,0.6,0.8,1,1.2,1.4,1.6,1.8,2,2.2,2.4,2.6,2.8,3,3.2,3.4,3.6,3.8,4,4.2,4.4,4.6,4.8,5],
      "tickSize":{"condition":{"test":"abs(datum.value-round(datum.value))<0.001","value":-8},"value":-4}}},
    "y":{"datum":0,"type":"quantitative","scale":{"domain":[-0.001,0.001],"nice":false,"zero":false},
     "axis":{"orient":"right","title":null,"labels":false,"values":[-0.001,-0.0009,-0.0008,-0.0007,-0.0006,-0.0005,-0.0004,-0.0003,-0.0002,-0.0001,0,0.0001,0.0002,0.0003,0.0004,0.0005,0.0006,0.0007,0.0008,0.0009,0.001],
      "tickSize":{"condition":{"test":"abs(datum.value*2000-round(datum.value*2000))<0.001","value":-8},"value":-4}}}}},
  {"data":{"values":[{}]},"mark":{"type":"point","shape":"M -1 -0.197 L 0.614 -0.197 L 0.614 -0.391 L 1 0 L 0.614 0.391 L 0.614 0.197 L -1 0.197 Z","size":54289,"filled":true,"fill":"#ff6600","opacity":1,"strokeWidth":0},
   "encoding":{"x":{"datum":2.244,"type":"quantitative","axis":null},"y":{"datum":0.0014918,"type":"quantitative","axis":null}}},
  {"data":{"values":[{}]},"mark":{"type":"text","text":"Strong Ē","font":"Open Sans","fontSize":27,"fill":"#ffffff","align":"left","baseline":"alphabetic"},
   "encoding":{"x":{"datum":1.695,"type":"quantitative","axis":null},"y":{"datum":0.0014396,"type":"quantitative","axis":null}}},
  {"data":{"values":[{}]},"mark":{"type":"point","shape":"M -1 0.098 C -0.9 0 -0.75 -0.107 -0.623 -0.107 C -0.45 -0.107 -0.22 0.115 -0.049 0.115 C 0.12 0.115 0.25 -0.098 0.41 -0.098 C 0.6 -0.098 0.8 0.082 0.984 0.082","size":14884,"filled":false,"stroke":"#0070c0","strokeWidth":5,"opacity":1},
   "encoding":{"x":{"datum":1.729,"type":"quantitative","axis":null},"y":{"datum":0.001835,"type":"quantitative","axis":null}}},
  {"data":{"values":[{}]},"mark":{"type":"point","shape":"M -1 -0.672 L 1 0 L -1 0.672 Z","size":2916,"filled":true,"fill":"#0070c0","opacity":1,"strokeWidth":0},
   "encoding":{"x":{"datum":2.453,"type":"quantitative","axis":null},"y":{"datum":0.0018085,"type":"quantitative","axis":null}}},
  {"data":{"values":[{}]},"mark":{"type":"text","text":"Probe ℰ","font":"Open Sans","fontSize":27,"fill":"#0070c0","align":"left","baseline":"alphabetic"},
   "encoding":{"x":{"datum":2.871,"type":"quantitative","axis":null},"y":{"datum":0.0018093,"type":"quantitative","axis":null}}},
  {"data":{"values":[{}]},"mark":{"type":"rule","stroke":"#404040","strokeWidth":2.5,"strokeCap":"square"},
   "encoding":{"x":{"datum":-1.857,"type":"quantitative","axis":null},"y":{"datum":0.0022802,"type":"quantitative","axis":null},"y2":{"datum":-0.0015385}}},
  {"data":{"values":[{}]},"mark":{"type":"rule","stroke":"#404040","strokeWidth":2.5,"strokeCap":"square"},
   "encoding":{"x":{"datum":-1.857,"type":"quantitative","axis":null},"x2":{"datum":0.0511},"y":{"datum":0.0022802,"type":"quantitative","axis":null}}},
  {"data":{"values":[{}]},"mark":{"type":"text","text":"Imaginary part of the change","font":"Open Sans","fontWeight":"bold","fontSize":47.5,"fill":"#000000","align":"left","baseline":"alphabetic"},
   "encoding":{"x":{"datum":0.417,"type":"quantitative","axis":null},"y":{"datum":0.0022033,"type":"quantitative","axis":null}}},
  {"data":{"values":[{}]},"mark":{"type":"text","text":"Δε = ε(Ē ≠ 0) − ε(Ē = 0)","font":"DejaVu Serif","fontWeight":"bold","fontStyle":"italic","fontSize":40,"fill":"#000000","align":"left","baseline":"alphabetic"},
   "encoding":{"x":{"datum":6.45,"type":"quantitative","axis":null},"y":{"datum":0.0022033,"type":"quantitative","axis":null}}},
  {"data":{"values":[{}]},"mark":{"type":"rule","stroke":"#000000","strokeWidth":3},
   "encoding":{"x":{"datum":0.417,"type":"quantitative","axis":null},"x2":{"datum":2.45},"y":{"datum":0.0021813,"type":"quantitative","axis":null}}}
 ]
},
{
 "width":579,"height":359,
 "resolve":{"axis":{"x":"independent","y":"independent"}},
 "layer":[
  {"data":{"name":"leg"},"mark":{"type":"text","align":"right","baseline":"middle","font":"Liberation Serif","fontSize":26,"fill":"#000000"},
   "encoding":{"text":{"field":"t"},"x":{"datum":4.016,"type":"quantitative","axis":null},"y":{"datum":0.000847,"type":"quantitative","axis":null},
    "yOffset":{"field":"k","type":"nominal","scale":{"type":"point","domain":["0.2","0.4","0.6","0.8","1.0"],"range":[0,122],"padding":0}}}},
  {"data":{"name":"leg"},"mark":{"type":"point","shape":"M -1 0 L 1 0","size":2401,"filled":false,"strokeWidth":2.5,"opacity":1},
   "encoding":{"x":{"datum":4.508,"type":"quantitative","axis":null},"y":{"datum":0.000847,"type":"quantitative","axis":null},
    "yOffset":{"field":"k","type":"nominal","scale":{"type":"point","domain":["0.2","0.4","0.6","0.8","1.0"],"range":[0,122],"padding":0}},
    "color":{"field":"k","type":"nominal","scale":{"domain":["0.2","0.4","0.6","0.8","1.0"],"range":["#ff0000","#ffe80a","#20d820","#20e8e0","#1030ff"]},"legend":null}}},
  {"data":{"name":"perp"},"mark":{"type":"line","strokeWidth":2.3,"interpolate":"monotone","clip":true},
   "encoding":{
    "x":{"field":"x","type":"quantitative","scale":{"domain":[0,5],"nice":false,"zero":false},
     "axis":{"orient":"bottom","title":"ω/m","values":[0,0.2,0.4,0.6,0.8,1,1.2,1.4,1.6,1.8,2,2.2,2.4,2.6,2.8,3,3.2,3.4,3.6,3.8,4,4.2,4.4,4.6,4.8,5],
      "labelExpr":"abs(datum.value-round(datum.value))<0.001 ? format(datum.value,'d') : ''",
      "tickSize":{"condition":{"test":"abs(datum.value-round(datum.value))<0.001","value":-8},"value":-4},
      "labelPadding":10.5,"titleFontSize":35,"titleFontStyle":"italic","titleFontWeight":"normal","titlePadding":15.5}},
    "y":{"field":"y","type":"quantitative","scale":{"domain":[-0.001,0.001],"nice":false,"zero":false},
     "axis":{"orient":"left","title":"Im  Δϵ⊥","values":[-0.001,-0.0009,-0.0008,-0.0007,-0.0006,-0.0005,-0.0004,-0.0003,-0.0002,-0.0001,0,0.0001,0.0002,0.0003,0.0004,0.0005,0.0006,0.0007,0.0008,0.0009,0.001],
      "labelExpr":"abs(datum.value*2000-round(datum.value*2000))<0.001 ? format(datum.value,'.4f') : ''",
      "tickSize":{"condition":{"test":"abs(datum.value*2000-round(datum.value*2000))<0.001","value":-8},"value":-4},
      "labelPadding":14,"titleFontSize":38,"titleFontWeight":"bold","titlePadding":11}},
    "color":{"field":"k","type":"nominal","scale":{"domain":["0.2","0.4","0.6","0.8","1.0"],"range":["#ff0000","#ffe80a","#20d820","#20e8e0","#1030ff"]},"legend":null}}},
  {"data":{"values":[{}]},"mark":{"type":"point","opacity":0},
   "encoding":{
    "x":{"datum":0,"type":"quantitative","scale":{"domain":[0,5],"nice":false,"zero":false},
     "axis":{"orient":"top","title":null,"labels":false,"values":[0,0.2,0.4,0.6,0.8,1,1.2,1.4,1.6,1.8,2,2.2,2.4,2.6,2.8,3,3.2,3.4,3.6,3.8,4,4.2,4.4,4.6,4.8,5],
      "tickSize":{"condition":{"test":"abs(datum.value-round(datum.value))<0.001","value":-8},"value":-4}}},
    "y":{"datum":0,"type":"quantitative","scale":{"domain":[-0.001,0.001],"nice":false,"zero":false},
     "axis":{"orient":"right","title":null,"labels":false,"values":[-0.001,-0.0009,-0.0008,-0.0007,-0.0006,-0.0005,-0.0004,-0.0003,-0.0002,-0.0001,0,0.0001,0.0002,0.0003,0.0004,0.0005,0.0006,0.0007,0.0008,0.0009,0.001],
      "tickSize":{"condition":{"test":"abs(datum.value*2000-round(datum.value*2000))<0.001","value":-8},"value":-4}}}}},
  {"data":{"values":[{}]},"mark":{"type":"point","shape":"M -1 -0.197 L 0.614 -0.197 L 0.614 -0.391 L 1 0 L 0.614 0.391 L 0.614 0.197 L -1 0.197 Z","size":54756,"filled":true,"fill":"#ff6600","opacity":1,"strokeWidth":0},
   "encoding":{"x":{"datum":2.53,"type":"quantitative","axis":null},"y":{"datum":0.0015042,"type":"quantitative","axis":null}}},
  {"data":{"values":[{}]},"mark":{"type":"text","text":"Strong Ē","font":"Open Sans","fontSize":27,"fill":"#ffffff","align":"left","baseline":"alphabetic"},
   "encoding":{"x":{"datum":1.978,"type":"quantitative","axis":null},"y":{"datum":0.0014596,"type":"quantitative","axis":null}}},
  {"data":{"values":[{}]},"mark":{"type":"point","shape":"M 0.107 -1 C 0.05 -0.8 -0.152 -0.7 -0.152 -0.513 C -0.152 -0.25 0.157 -0.15 0.157 0.106 C 0.157 0.35 -0.152 0.4 -0.152 0.598 C -0.152 0.8 0 0.92 0.078 1","size":11664,"filled":false,"stroke":"#0070c0","strokeWidth":5,"opacity":1},
   "encoding":{"x":{"datum":1.775,"type":"quantitative","axis":null},"y":{"datum":0.0014429,"type":"quantitative","axis":null}}},
  {"data":{"values":[{}]},"mark":{"type":"point","shape":"M -0.704 1 L 0 -1 L 0.704 1 Z","size":2916,"filled":true,"fill":"#0070c0","opacity":1,"strokeWidth":0},
   "encoding":{"x":{"datum":1.788,"type":"quantitative","axis":null},"y":{"datum":0.0018958,"type":"quantitative","axis":null}}},
  {"data":{"values":[{}]},"mark":{"type":"text","text":"Probe ℰ","font":"Open Sans","fontSize":27,"fill":"#0070c0","align":"left","baseline":"alphabetic"},
   "encoding":{"x":{"datum":2.073,"type":"quantitative","axis":null},"y":{"datum":0.001922,"type":"quantitative","axis":null}}},
  {"data":{"values":[{}]},"mark":{"type":"rule","stroke":"#404040","strokeWidth":2.5},
   "encoding":{"x":{"datum":4.257,"type":"quantitative","axis":null},"x2":{"datum":6.736},"y":{"datum":0.002312,"type":"quantitative","axis":null}}}
 ]
}
]
}
